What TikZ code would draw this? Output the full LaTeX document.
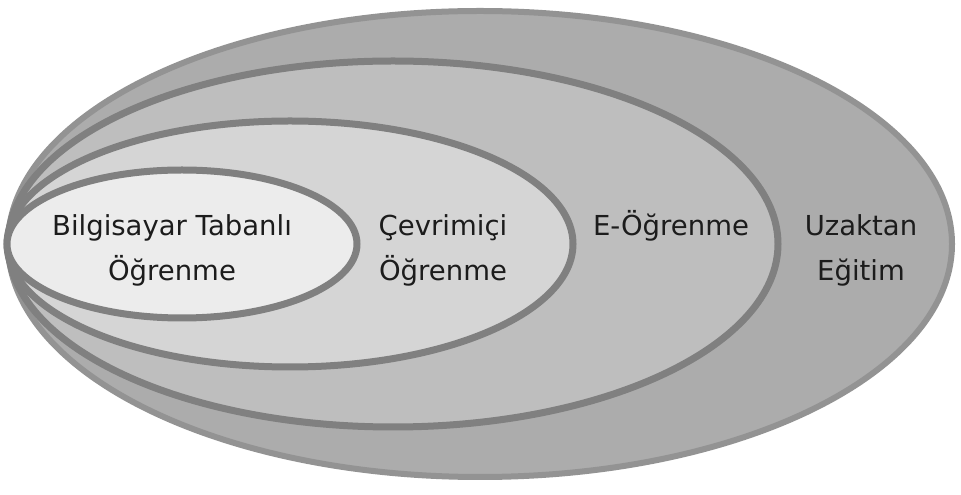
\documentclass[tikz,border=0pt]{standalone}
\usepackage{fontspec}
\setmainfont{DejaVu Sans}
\usepackage{tikz}
\usetikzlibrary{shapes.geometric}
\definecolor{kat1}{RGB}{172,172,172}
\definecolor{kat2}{RGB}{190,190,190}
\definecolor{kat3}{RGB}{213,213,213}
\definecolor{kat4}{RGB}{236,236,236}
\definecolor{cizgi}{RGB}{128,128,128}
\definecolor{yazi}{RGB}{28,28,28}
\tikzstyle{halka}=[ellipse,draw=cizgi,line width=7pt,inner sep=0pt]
\tikzstyle{etiket}=[align=center,text=yazi,inner sep=0pt,anchor=base,
        font=\fontsize{27.5}{45}\selectfont]

\begin{document}
\begin{tikzpicture}[x=1pt,y=1pt]
\useasboundingbox (0,0) rectangle (961,495);
\node[halka,fill=kat1,draw=cizgi!85,line width=6pt,minimum width=944pt,minimum height=466pt] (uzak) at (480,251) {};
\node[halka,fill=kat2,minimum width=770pt,minimum height=366pt] (eog) at (393,251) {};
\node[halka,fill=kat3,minimum width=566pt,minimum height=246pt] (cevrim) at (290,251) {};
\node[halka,fill=kat4,minimum width=350pt,minimum height=148pt] (bilg) at (182,251) {};
%Etiketler
\node[etiket] (t1) at (172,214) {Bilgisayar Tabanlı\\Öğrenme};
\node[etiket] (t2) at (443,214) {Çevrimiçi\\Öğrenme};
\node[etiket] (t3) at (671,259) {E-Öğrenme};
\node[etiket] (t4) at (861,214) {Uzaktan\\Eğitim};
\end{tikzpicture}
\end{document}
